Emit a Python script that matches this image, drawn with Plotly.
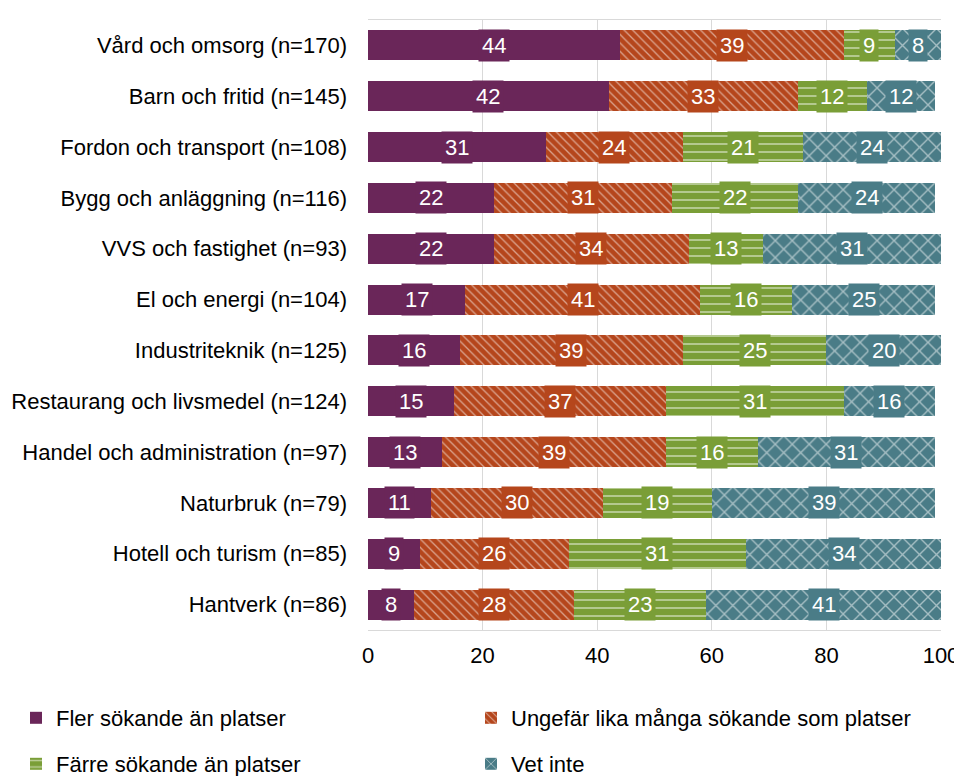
import plotly.graph_objects as go

# Data (percent), top to bottom
categories = [
    "Vård och omsorg (n=170)",
    "Barn och fritid (n=145)",
    "Fordon och transport (n=108)",
    "Bygg och anläggning (n=116)",
    "VVS och fastighet (n=93)",
    "El och energi (n=104)",
    "Industriteknik (n=125)",
    "Restaurang och livsmedel (n=124)",
    "Handel och administration (n=97)",
    "Naturbruk (n=79)",
    "Hotell och turism (n=85)",
    "Hantverk (n=86)",
]
fler = [44, 42, 31, 22, 22, 17, 16, 15, 13, 11, 9, 8]
ungefar = [39, 33, 24, 31, 34, 41, 39, 37, 39, 30, 26, 28]
farre = [9, 12, 21, 22, 13, 16, 25, 31, 16, 19, 31, 23]
vet_inte = [8, 12, 24, 24, 31, 25, 20, 16, 31, 39, 34, 41]

series_names = [
    "Fler sökande än platser",
    "Ungefär lika många sökande som platser",
    "Färre sökande än platser",
    "Vet inte",
]
series_values = [fler, ungefar, farre, vet_inte]
colors = ["#6a2659", "#b5461c", "#7a9e37", "#4a7c87"]
patterns = ["", "\\", "-", "x"]
pattern_sizes = [6, 6, 8, 12]

font = "Liberation Sans, Arial, sans-serif"
fs = 22
W, H = 954, 768

# one legend per entry, placed in a 2x2 grid below the chart
legend_ids = ["legend", "legend2", "legend3", "legend4"]
legend_pos = [(8, 710), (463, 710), (8, 756), (463, 756)]

fig = go.Figure()
for name, vals, col, pat, ps, lg in zip(series_names, series_values, colors,
                                        patterns, pattern_sizes, legend_ids):
    fig.add_trace(go.Bar(
        y=categories, x=vals, name=name, orientation="h",
        marker=dict(color=col, line=dict(width=0),
                    pattern=dict(shape=pat, fgcolor="white", fgopacity=0.5,
                                 size=ps, solidity=0.22)),
        legend=lg, hoverinfo="x+name",
    ))

# value labels in colored boxes at the middle of each segment
starts = [[0] * len(fler), fler,
          [a + b for a, b in zip(fler, ungefar)],
          [a + b + c for a, b, c in zip(fler, ungefar, farre)]]
for vals, col, prev in zip(series_values, colors, starts):
    for cat, v, p in zip(categories, vals, prev):
        fig.add_annotation(x=p + v / 2, y=cat, text=str(v), showarrow=False,
                           font=dict(family=font, size=fs, color="white"),
                           bgcolor=col, borderpad=3)

legends = {}
for lg, (px_, py_) in zip(legend_ids, legend_pos):
    legends[lg] = dict(orientation="h", xref="container", yref="container",
                       x=px_ / W, xanchor="left", y=1 - py_ / H, yanchor="middle",
                       itemwidth=30, font=dict(family=font, size=fs),
                       bgcolor="rgba(0,0,0,0)")

fig.update_layout(
    barmode="stack",
    bargap=0.41,
    width=W, height=H,
    margin=dict(l=360, r=W - 933, t=12, b=H - 622),
    plot_bgcolor="white", paper_bgcolor="white",
    font=dict(family=font, size=fs, color="#000000"),
    showlegend=True,
    **legends,
)
fig.update_xaxes(range=[0, 100], dtick=20, showgrid=True, gridcolor="#d9d9d9",
                 gridwidth=1, zeroline=False, showline=True, linecolor="#d9d9d9",
                 mirror=True, ticks="", ticklabelstandoff=6, automargin=False,
                 ticklabeloverflow="allow", tickfont=dict(family=font, size=fs))
fig.update_yaxes(autorange="reversed", showgrid=False, ticks="", showline=False,
                 ticklabelstandoff=20, automargin=False,
                 tickfont=dict(family=font, size=fs))

fig.write_html("out.html")
